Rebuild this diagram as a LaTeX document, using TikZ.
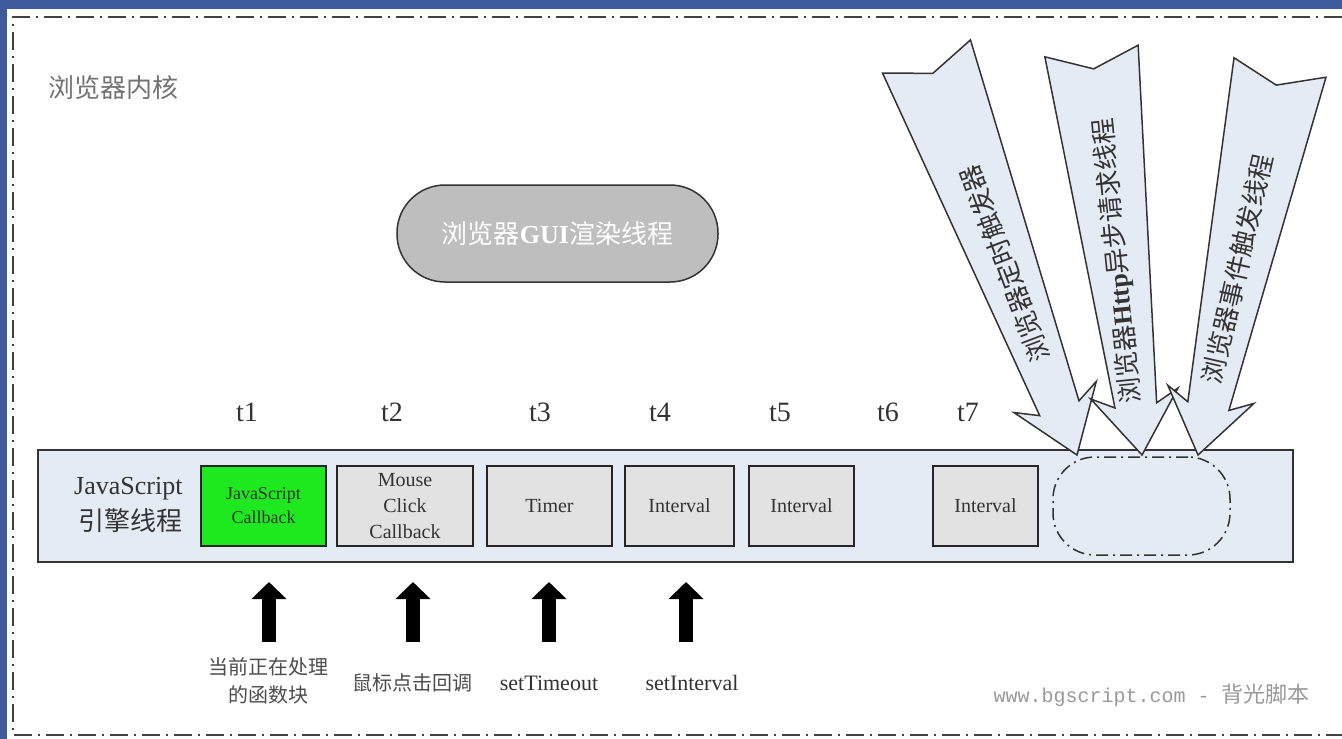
\documentclass[tikz,border=0pt]{standalone}
\usepackage{fontspec}
\setmainfont{Liberation Serif}
\newfontfamily\cjk{Noto Sans CJK SC}
\newfontfamily\wmfont{Liberation Mono}
\usetikzlibrary{calc,arrows.meta}

\definecolor{slideblue}{RGB}{62,90,154}
\definecolor{barblue}{RGB}{229,235,245}
\definecolor{boxgray}{RGB}{226,226,226}
\definecolor{cbgreen}{RGB}{30,232,30}
\definecolor{guigray}{RGB}{190,190,190}

% fat arrow with notched tail: #1 tail centre, #2 tip
\newcommand{\fanarrow}[2]{%
  \draw[fanarrow] ($(#1)!47pt!90:(#2)$) -- ($(#1)!18pt!(#2)$) -- ($(#1)!47pt!-90:(#2)$)
    -- ($(#2)!50pt!(#1)!21pt!-90:(#2)$) -- ($(#2)!62pt!(#1)!44pt!-90:(#2)$) -- (#2)
    -- ($(#2)!62pt!(#1)!44pt!90:(#2)$) -- ($(#2)!50pt!(#1)!21pt!90:(#2)$) -- cycle;}

\begin{document}
\begin{tikzpicture}[x=1pt, y=-1pt,
  tlabel/.style={font=\fontsize{28}{30}\selectfont, text=black!80},
  jsbox/.style={draw=black!85, line width=2pt, fill=boxgray, minimum height=80pt, inner sep=0pt,
    align=center, text=black!80, font=\fontsize{20}{26}\selectfont},
  frame/.style={draw=black!75, line width=2pt, dash pattern=on 18pt off 6pt on 2pt off 6pt},
  fanarrow/.style={draw=black!80, fill=barblue, line width=1.5pt, line join=miter},
  uparrow/.style={line width=14pt, -{Triangle[width=34pt,length=17pt]}},
  cjklabel/.style={font=\cjk\fontsize{20}{28}\selectfont, text=black!70}]

  \useasboundingbox (0,0) rectangle (1342,739);
  \fill[slideblue] (0,0) rectangle (1342,739);
  \fill[white] (7,9) rectangle (1342,739);
  \draw[frame] (1342,17) -- (13,17) -- (13,735) -- (1342,735);

  \node[anchor=west, text=black!55, font=\cjk\fontsize{26}{30}\selectfont] (core) at (45,88) {浏览器内核};

  \node[draw=black!80, line width=1.5pt, fill=guigray, rounded corners=48pt, minimum width=321pt,
    minimum height=97pt, text=white, font=\fontsize{26}{30}\selectfont] (gui) at (557.5,233.5)
    {{\cjk 浏览器}\textbf{GUI}{\cjk 渲染线程}};

  % engine thread
  \node[draw=black!80, line width=2pt, fill=barblue, minimum width=1255pt, minimum height=112pt] (bar) at (665.5,506) {};
  \node[anchor=east, align=right, text=black!80, font=\fontsize{26}{36}\selectfont] (engine) at (186,505)
    {JavaScript\\{\cjk 引擎线程}};
  \node[jsbox, fill=cbgreen, minimum width=125pt, font=\fontsize{18}{24}\selectfont] (cb) at (263.5,506) {JavaScript\\Callback};
  \node[jsbox, minimum width=136pt] (mouse) at (405,506) {Mouse\\Click\\Callback};
  \node[jsbox, minimum width=125pt] (timer) at (549.5,506) {Timer};
  \node[jsbox, minimum width=109pt] (iv1) at (679.5,506) {Interval};
  \node[jsbox, minimum width=105pt] (iv2) at (801.5,506) {Interval};
  \node[jsbox, minimum width=105pt] (iv3) at (985.5,506) {Interval};

  % browser threads
  \coordinate (tail1) at (926.5,56.5); \coordinate (tip1) at (1077,455);
  \coordinate (tail2) at (1091.5,51);  \coordinate (tip2) at (1142,455);
  \coordinate (tail3) at (1280,67.5);  \coordinate (tip3) at (1198,455);
  \foreach \i in {1,2,3} \fanarrow{tail\i}{tip\i};
  \node[rotate=110.7, text=black!80, font=\cjk\fontsize{26}{30}\selectfont] (timerthread)
    at ($(tail1)!0.52!(tip1)$) {浏览器定时触发器};
  \node[rotate=95.8, text=black!80, font=\fontsize{26}{30}\selectfont] (httpthread)
    at ($(tail2)!0.52!(tip2)$) {{\cjk 浏览器}\textbf{Http}{\cjk 异步请求线程}};
  \node[rotate=77.1, text=black!80, font=\cjk\fontsize{26}{30}\selectfont] (eventthread)
    at ($(tail3)!0.52!(tip3)$) {浏览器事件触发线程};

  \node[draw=black!80, line width=1.5pt, fill=barblue, rounded corners=42pt, minimum width=177pt,
    minimum height=98pt, dash pattern=on 12pt off 5pt on 2pt off 5pt] (queue) at (1141.5,506) {};

  \foreach \x/\t in {247/1, 392/2, 540/3, 660/4, 780/5, 888/6, 968/7}
    \node[tlabel] (t\t) at (\x,412) {t\t};

  % sources
  \node[cjklabel, align=center] (cur) at (268,681) {当前正在处理\\的函数块};
  \node[cjklabel] (click) at (412,683) {鼠标点击回调};
  \node[text=black!80, font=\fontsize{22}{26}\selectfont] (settimeout) at (549,683) {setTimeout};
  \node[text=black!80, font=\fontsize{22}{26}\selectfont] (setinterval) at (692,683) {setInterval};
  \foreach \n/\x in {cur/269, click/413, settimeout/549, setinterval/686} {
    \coordinate (\n-from) at (\x,642);
    \draw[uparrow] (\n-from) -- ++(0,-60);
  }

  \node[anchor=west, text=black!40, font=\wmfont\fontsize{20}{24}\selectfont] (wm) at (990,695)
    {www.bgscript.com - {\cjk\fontsize{22}{24}\selectfont 背光脚本}};
\end{tikzpicture}
\end{document}
